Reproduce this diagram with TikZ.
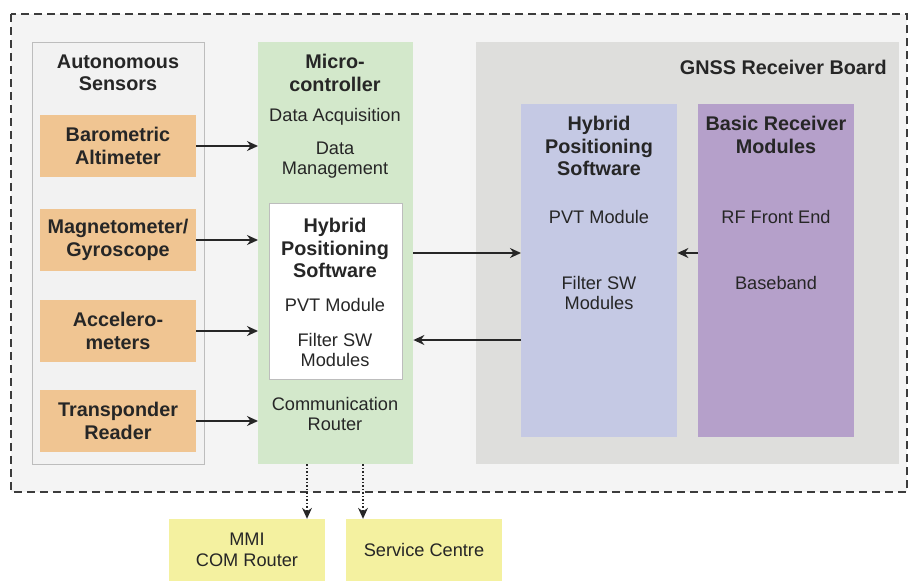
\documentclass[tikz,border=0pt]{standalone}
\usepackage{fontspec}
\setmainfont{Liberation Sans}
\usetikzlibrary{arrows.meta,calc}
\definecolor{ink}{HTML}{262626}
\definecolor{pagebg}{HTML}{F4F4F4}
\definecolor{sensfill}{HTML}{F2F2F2}
\definecolor{sensline}{HTML}{BDBDBD}
\definecolor{orangefill}{HTML}{F0C592}
\definecolor{greenfill}{HTML}{D3E8CB}
\definecolor{boardfill}{HTML}{DEDEDC}
\definecolor{bluefill}{HTML}{C5C9E4}
\definecolor{purplefill}{HTML}{B5A0CA}
\definecolor{yellowfill}{HTML}{F4F1A0}
\tikzset{
  box/.style={rectangle, inner sep=0pt, anchor=north west},
  sensor/.style={rectangle, inner sep=0pt, fill=orangefill, minimum width=156pt,
    minimum height=62pt, align=center, font=\fontsize{19.8}{22.5}\selectfont\bfseries, text=ink},
  outbox/.style={rectangle, inner sep=0pt, fill=yellowfill, minimum width=156pt,
    minimum height=62pt, align=center, font=\fontsize{18.2}{20.5}\selectfont, text=ink},
  head/.style={align=center, inner sep=0pt, font=\fontsize{19.8}{22.5}\selectfont\bfseries, text=ink},
  plain/.style={align=center, inner sep=0pt, font=\fontsize{18.2}{20.5}\selectfont, text=ink},
  link/.style={draw=ink, line width=1.7pt, -{Stealth[length=11pt,width=10pt]}},
  dotlink/.style={draw=ink, line width=1.5pt, dotted, -{Stealth[length=11pt,width=10pt,line width=0pt]}},
}
\begin{document}
\begin{tikzpicture}[x=1pt,y=-1pt]
\useasboundingbox (0,0) rectangle (910,581);
\fill[white] (0,0) rectangle (910,581);

% system frame
\draw[fill=pagebg, draw=ink!90, line width=1.8pt, dash pattern=on 8pt off 5pt]
  (11,14) rectangle (907,492);

% autonomous sensors column
\node[box, draw=sensline, line width=1pt, fill=sensfill, minimum width=172pt, minimum height=422pt] (sens) at (32,42) {};
\node[head] (senst) at (118,73) {Autonomous\\Sensors};
\node[sensor] (baro) at (118,146) {Barometric\\Altimeter};
\node[sensor] (magn) at (118,240) {Magnetometer/\\Gyroscope};
\node[sensor] (accel) at (118,331) {Accelero-\\meters};
\node[sensor] (trans) at (118,421) {Transponder\\Reader};

% microcontroller column
\node[box, fill=greenfill, minimum width=155pt, minimum height=422pt] (micro) at (258,42) {};
\node[head] (microt) at (335,73) {Micro-\\controller};
\node[plain] (acq) at (335,117) {Data Acquisition};
\node[plain] (mgmt) at (335,160) {Data\\Management};
\node[box, draw=sensline, line width=0.8pt, fill=white, minimum width=133pt, minimum height=176pt] (hps) at (269,203) {};
\node[head] (hpst) at (335,248) {Hybrid\\Positioning\\Software};
\node[plain] (pvt) at (335,305) {PVT Module};
\node[plain] (filt) at (335,350) {Filter SW\\Modules};
\node[plain] (comm) at (335,414) {Communication\\Router};

% GNSS receiver board
\node[box, fill=boardfill, minimum width=423pt, minimum height=422pt] (board) at (476,42) {};
\node[head, anchor=east] (boardt) at (887,67) {GNSS Receiver Board};
\node[box, fill=bluefill, minimum width=156pt, minimum height=333pt] (ghps) at (521,104) {};
\node[head] (ghpst) at (599,146) {Hybrid\\Positioning\\Software};
\node[plain] (gpvt) at (599,217) {PVT Module};
\node[plain] (gfilt) at (599,293) {Filter SW\\Modules};
\node[box, fill=purplefill, minimum width=156pt, minimum height=333pt] (brm) at (698,104) {};
\node[head] (brmt) at (776,135) {Basic Receiver\\Modules};
\node[plain] (rf) at (776,217) {RF Front End};
\node[plain] (bb) at (776,283) {Baseband};

% external units
\node[outbox] (mmi) at (247,550) {MMI\\COM Router};
\node[outbox] (svc) at (424,550) {Service Centre};

% sensor data into the microcontroller
\draw[link] (baro.east) -- (baro.east -| micro.west);
\draw[link] (magn.east) -- (magn.east -| micro.west);
\draw[link] (accel.east) -- (accel.east -| micro.west);
\draw[link] (trans.east) -- (trans.east -| micro.west);

% exchange with the receiver board
\coordinate (upper) at (0,253);
\coordinate (lower) at (0,340);
\draw[link] (upper -| micro.east) -- (upper -| ghps.west);
\draw[link] (lower -| ghps.west) -- (lower -| micro.east);
\draw[link] (upper -| brm.west) -- (upper -| ghps.east);

% outputs of the communication router
\coordinate (out1) at (307,0);
\coordinate (out2) at (363,0);
\draw[dotlink] (micro.south -| out1) -- (mmi.north -| out1);
\draw[dotlink] (micro.south -| out2) -- (svc.north -| out2);
\end{tikzpicture}
\end{document}
